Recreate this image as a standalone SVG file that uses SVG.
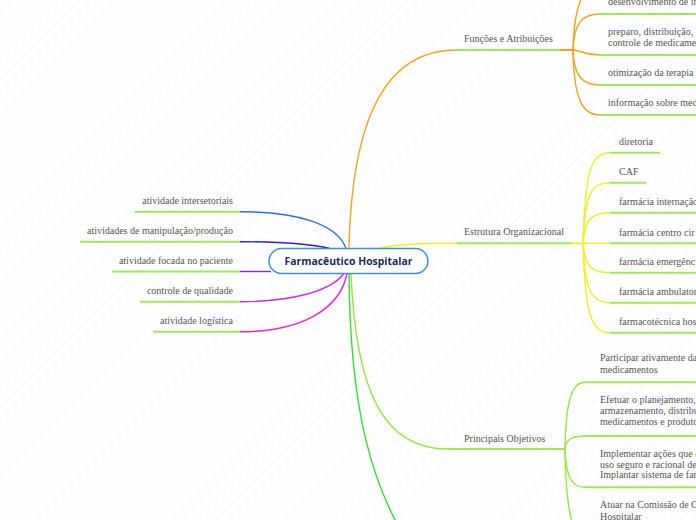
<svg xmlns="http://www.w3.org/2000/svg" width="696" height="520" viewBox="0 0 696 520">
<defs>
<pattern id="bg" width="8" height="8" patternUnits="userSpaceOnUse" patternTransform="rotate(45)">
<line x1="0" y1="0" x2="0" y2="8" stroke="#f2f2f2" stroke-width="1"/>
</pattern>
</defs>
<style>
.lbl{font-family:"Liberation Serif","Times New Roman",serif;font-size:10px;fill:#555}
.end{text-anchor:end}
.ul{stroke:#a2e65a;stroke-width:2;fill:none}
.c{fill:none;stroke-width:1.4}
.or{stroke:#f7a21b}
.ye{stroke:#f0f01e}
.gr{stroke:#92e83a}
.gr2{stroke:#33dd33}
.center{font-family:"Open Sans","Noto Sans",sans-serif;font-size:10.4px;font-weight:bold;fill:#1c2b5a;text-anchor:middle}
</style>
<rect width="696" height="520" fill="#fff"/>
<rect width="696" height="520" fill="url(#bg)"/>

<g id="connectors">
<!-- left -->
<path class="c" stroke="#2f6bea" d="M240,211.7 C300,211.7 338,225 346,248.5"/>
<path class="c" stroke="#2a1ee0" d="M240,241.7 C280,241.7 310,244 330,248.5"/>
<path class="c" stroke="#7b2ee6" d="M240,271.5 H271"/>
<path class="c" stroke="#c42ee6" d="M240,301.7 C290,301.7 330,292 344,273.5"/>
<path class="c" stroke="#ee22c8" d="M240,331.7 C300,331.7 340,310 347,273.5"/>
<!-- right main branches -->
<path class="c or" d="M349,248.5 C352,110 390,50 456,50"/>
<path class="c ye" d="M378,248.5 C400,244 420,243.3 458,243.3"/>
<path class="c gr" d="M351,273.5 C356,395 385,449 448,449"/>
<path class="c gr2" d="M349,273.5 C350,400 368,490 420,560"/>
<line x1="560" y1="50" x2="573" y2="50" stroke="#f7a21b" stroke-width="2"/>
<line x1="572" y1="243.3" x2="583" y2="243.3" stroke="#f0f01e" stroke-width="2"/>
<!-- Funções children -->
<path class="c or" d="M573,50 C574,9 582,-16 600,-16"/>
<path class="c or" d="M573,50 C574,23 582,14 600,14"/>
<path class="c or" d="M573,50 C580,50 584,55 600,55"/>
<path class="c or" d="M573,50 C574,76 582,85 600,85"/>
<path class="c or" d="M573,50 C574,99 582,115 600,115"/>
<!-- Estrutura children -->
<path class="c ye" d="M583,243.3 C585,171 591,152.7 610,152.7"/>
<path class="c ye" d="M583,243.3 C585,194 591,182.7 610,182.7"/>
<path class="c ye" d="M583,243.3 C585,220 591,212.7 610,212.7"/>
<path class="c ye" d="M583,243.3 H610"/>
<path class="c ye" d="M583,243.3 C585,266 591,272.7 610,272.7"/>
<path class="c ye" d="M583,243.3 C585,290 591,302.7 610,302.7"/>
<path class="c ye" d="M583,243.3 C585,314 591,332.7 610,332.7"/>
<!-- Principais children -->
<path class="c gr" d="M565,449 C566,399 572,382.3 585,382.3"/>
<path class="c gr" d="M565,449 C566,439 572,436 585,436"/>
<path class="c gr" d="M565,449 C566,478 572,487.3 585,487.3"/>
<path class="c gr" d="M565,449 C566,517 574,540 587,540"/>
</g>

<g id="center">
<rect x="269" y="248.5" width="159" height="25" rx="12.5" fill="#fff" stroke="#3d8fd8" stroke-width="1.5"/>
<text class="center" x="348.5" y="264.6">Farmacêutico Hospitalar</text>
</g>

<g id="n-intersetoriais"><line class="ul" x1="135" y1="211.7" x2="240" y2="211.7"/><text class="lbl end" x="233" y="204.2">atividade intersetoriais</text></g>
<g id="n-manipulacao"><line class="ul" x1="80" y1="241.7" x2="240" y2="241.7"/><text class="lbl end" x="233" y="234.2">atividades de manipulação/produção</text></g>
<g id="n-paciente"><line class="ul" x1="112" y1="271.5" x2="240" y2="271.5"/><text class="lbl end" x="233" y="264">atividade focada no paciente</text></g>
<g id="n-qualidade"><line class="ul" x1="140" y1="301.7" x2="240" y2="301.7"/><text class="lbl end" x="233" y="294.2">controle de qualidade</text></g>
<g id="n-logistica"><line class="ul" x1="153" y1="331.7" x2="240" y2="331.7"/><text class="lbl end" x="233" y="324.2">atividade logística</text></g>

<g id="n-funcoes"><line class="ul" x1="455" y1="50" x2="560" y2="50"/><text class="lbl" x="464" y="41.7">Funções e Atribuições</text></g>
<g id="n-desenvolvimento"><line class="ul" x1="600" y1="14" x2="696" y2="14"/><text class="lbl" x="608" y="5">desenvolvimento de in</text></g>
<g id="n-preparo"><line class="ul" x1="600" y1="55" x2="696" y2="55"/><text class="lbl" x="608" y="35.2">preparo, distribuição, e</text><text class="lbl" x="608" y="46">controle de medicame</text></g>
<g id="n-otimizacao"><line class="ul" x1="600" y1="85" x2="696" y2="85"/><text class="lbl" x="608" y="75.5">otimização da terapia m</text></g>
<g id="n-informacao"><line class="ul" x1="600" y1="115" x2="696" y2="115"/><text class="lbl" x="608" y="105.5">informação sobre med</text></g>

<g id="n-estrutura"><line class="ul" x1="457" y1="243.3" x2="572" y2="243.3"/><text class="lbl" x="464" y="235">Estrutura Organizacional</text></g>
<g id="n-diretoria"><line class="ul" x1="610" y1="152.7" x2="660" y2="152.7"/><text class="lbl" x="619" y="145">diretoria</text></g>
<g id="n-caf"><line class="ul" x1="610" y1="182.7" x2="646" y2="182.7"/><text class="lbl" x="619" y="175">CAF</text></g>
<g id="n-internacao"><line class="ul" x1="610" y1="212.7" x2="696" y2="212.7"/><text class="lbl" x="619" y="205">farmácia internação</text></g>
<g id="n-centro"><line class="ul" x1="610" y1="243.3" x2="696" y2="243.3"/><text class="lbl" x="619" y="235.5">farmácia centro cir</text></g>
<g id="n-emergencia"><line class="ul" x1="610" y1="272.7" x2="696" y2="272.7"/><text class="lbl" x="619" y="265">farmácia emergênci</text></g>
<g id="n-ambulatorio"><line class="ul" x1="610" y1="302.7" x2="696" y2="302.7"/><text class="lbl" x="619" y="295">farmácia ambulator</text></g>
<g id="n-farmacotecnica"><line class="ul" x1="610" y1="332.7" x2="696" y2="332.7"/><text class="lbl" x="619" y="325">farmacotécnica hos</text></g>

<g id="n-principais"><line class="ul" x1="447" y1="449" x2="565" y2="449"/><text class="lbl" x="464" y="441.5">Principais Objetivos</text></g>
<g id="n-participar"><line class="ul" x1="585" y1="382.3" x2="696" y2="382.3"/><text class="lbl" x="600" y="361">Participar ativamente da</text><text class="lbl" x="600" y="373.3">medicamentos</text></g>
<g id="n-efetuar"><line class="ul" x1="585" y1="436" x2="696" y2="436"/><text class="lbl" x="600" y="403.3">Efetuar o planejamento,</text><text class="lbl" x="600" y="414.3">armazenamento, distribu</text><text class="lbl" x="600" y="425.3">medicamentos e produto</text></g>
<g id="n-implementar"><line class="ul" x1="585" y1="487.3" x2="696" y2="487.3"/><text class="lbl" x="600" y="456.7">Implementar ações que c</text><text class="lbl" x="600" y="467.5">uso seguro e racional de</text><text class="lbl" x="600" y="478.3">Implantar sistema de far</text></g>
<g id="n-atuar"><line class="ul" x1="587" y1="540" x2="696" y2="540"/><text class="lbl" x="600" y="508.3">Atuar na Comissão de C</text><text class="lbl" x="600" y="519.5">Hospitalar</text></g>
</svg>
